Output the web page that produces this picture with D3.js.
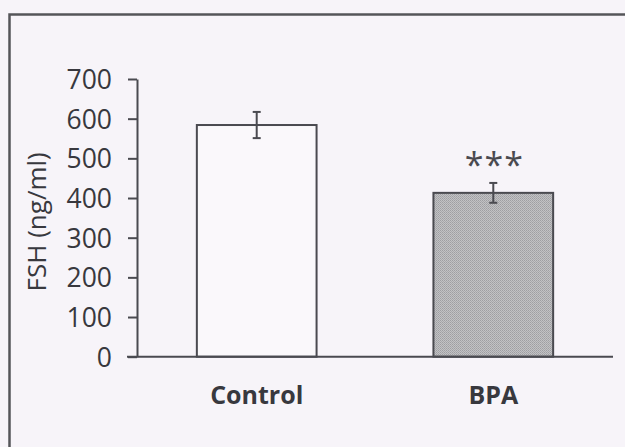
<!DOCTYPE html>
<html>
<head>
<meta charset="utf-8">
<script src="https://cdn.jsdelivr.net/npm/d3@7"></script>
<style>
	body { margin: 0; background: #f7f4f9; }
	svg { display: block; }
	svg text { font-family: "Open Sans", "Noto Sans", sans-serif; }
</style>
</head>
<body>
<div id="chart"></div>
<script>
// Chart values
const groups = ["Control", "BPA"];
const means = [584, 413];
const errors = [33, 25];
const yTicks = [0, 100, 200, 300, 400, 500, 600, 700];
const stars = ["", "***"];

const W = 625, H = 447;
const ink = "#4a4a50";

const svg = d3
	.select("#chart")
	.append("svg")
	.attr("width", W)
	.attr("height", H);

// halftone-like fill for the BPA bar
const pat = svg
	.append("defs")
	.append("pattern")
	.attr("id", "dots")
	.attr("width", 2)
	.attr("height", 2)
	.attr("patternUnits", "userSpaceOnUse");
pat.append("rect").attr("width", 2).attr("height", 2).attr("fill", "#c2c2c4");
pat.append("rect").attr("width", 1).attr("height", 1).attr("fill", "#9e9ea2");
pat.append("rect").attr("x", 1).attr("y", 1).attr("width", 1).attr("height", 1).attr("fill", "#a8a8ac");

// outer frame (runs off the right and bottom of the picture)
svg
	.append("rect")
	.attr("x", 9.5)
	.attr("y", 14.5)
	.attr("width", 700)
	.attr("height", 500)
	.attr("fill", "none")
	.attr("stroke", "#555559")
	.attr("stroke-width", 2.5);

// scales
const x = d3
	.scaleBand()
	.domain(groups)
	.range([137, 613])
	.paddingInner(0.494)
	.paddingOuter(0.253);
const y = d3.scaleLinear().domain([0, 700]).range([356.7, 79]);

const data = groups.map((g, i) => ({ group: g, mean: means[i], err: errors[i], star: stars[i] }));

// bars
svg
	.selectAll(".bar")
	.data(data)
	.enter()
	.append("rect")
	.attr("class", "bar")
	.attr("x", (d) => x(d.group))
	.attr("y", (d) => y(d.mean))
	.attr("width", x.bandwidth())
	.attr("height", (d) => y(0) - y(d.mean))
	.attr("fill", (d, i) => (i === 0 ? "#faf8fb" : "url(#dots)"))
	.attr("stroke", ink)
	.attr("stroke-width", 2);

// error bars
const eb = svg
	.selectAll(".err")
	.data(data)
	.enter()
	.append("g")
	.attr("class", "err")
	.attr("stroke", ink)
	.attr("stroke-width", 2);
eb.append("line")
	.attr("x1", (d) => x(d.group) + x.bandwidth() / 2)
	.attr("x2", (d) => x(d.group) + x.bandwidth() / 2)
	.attr("y1", (d) => y(d.mean + d.err))
	.attr("y2", (d) => y(d.mean - d.err));
eb.selectAll(".cap")
	.data((d) => [
		{ c: x(d.group) + x.bandwidth() / 2, v: d.mean + d.err },
		{ c: x(d.group) + x.bandwidth() / 2, v: d.mean - d.err },
	])
	.enter()
	.append("line")
	.attr("x1", (d) => d.c - 4)
	.attr("x2", (d) => d.c + 4)
	.attr("y1", (d) => y(d.v))
	.attr("y2", (d) => y(d.v));

// significance stars
svg
	.selectAll(".star")
	.data(data)
	.enter()
	.append("text")
	.attr("class", "star")
	.attr("x", (d) => x(d.group) + x.bandwidth() / 2 + 1)
	.attr("y", (d) => y(d.mean + d.err) - 6)
	.attr("text-anchor", "middle")
	.attr("fill", ink)
	.style("font-size", "34px")
	.style("letter-spacing", "1px")
	.text((d) => d.star);

// y axis
const yAxis = svg
	.append("g")
	.attr("transform", "translate(137,0)")
	.call(d3.axisLeft(y).tickValues(yTicks).tickSize(9).tickSizeOuter(0).tickPadding(16))
	.attr("font-family", null);
yAxis.select(".domain").attr("stroke", ink).attr("stroke-width", 2);
yAxis.selectAll(".tick line").attr("stroke", ink).attr("stroke-width", 2);
yAxis
	.selectAll(".tick text")
	.attr("fill", "#38383e")
	.style("font-size", "26.5px")
	.attr("dy", "0.36em");

// x axis
const xAxis = svg
	.append("g")
	.attr("transform", "translate(0," + y(0) + ")")
	.call(d3.axisBottom(x).tickSize(0).tickPadding(30))
	.attr("font-family", null);
xAxis.select(".domain").remove();
xAxis
	.selectAll(".tick text")
	.attr("fill", "#38383e")
	.style("font-size", "25px")
	.style("font-weight", "bold");
svg
	.append("line")
	.attr("x1", 127)
	.attr("x2", 613)
	.attr("y1", y(0))
	.attr("y2", y(0))
	.attr("stroke", ink)
	.attr("stroke-width", 2);

// y axis label
svg
	.append("text")
	.attr("transform", "translate(46," + ((y(0) + y(700)) / 2 + 4) + ") rotate(-90)")
	.attr("text-anchor", "middle")
	.attr("fill", "#38383e")
	.style("font-size", "26px")
	.text("FSH (ng/ml)");
</script>
</body>
</html>
